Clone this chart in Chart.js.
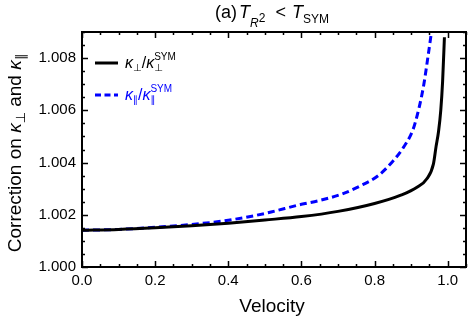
<!DOCTYPE html>
<html>
<head>
<meta charset="utf-8">
<script src="https://cdn.jsdelivr.net/npm/chart.js@4/dist/chart.umd.min.js"></script>
<style>
  html, body { margin: 0; padding: 0; background: #fff; }
  #wrap { width: 468px; height: 320px; }
</style>
</head>
<body>
<div id="wrap"><canvas id="chart" width="468" height="320"></canvas></div>
<script>
// values
const perpVelocity = [0, 0.1, 0.2, 0.3, 0.4, 0.5, 0.6, 0.7, 0.8, 0.87, 0.916, 0.943, 0.961, 0.968, 0.975, 0.981, 0.986, 0.991];
const perpValues = [1.00141, 1.00144, 1.00150, 1.00158, 1.00168, 1.00180, 1.00193, 1.00213, 1.00243, 1.00274, 1.00305, 1.00338, 1.00395, 1.00460, 1.00520, 1.00600, 1.00710, 1.00880];

const parVelocity = [0, 0.1, 0.2, 0.3, 0.4, 0.5, 0.6, 0.65, 0.71, 0.76, 0.81, 0.85, 0.88, 0.90, 0.91, 0.933, 0.947, 0.955, 0.962];
const parValues = [1.00141, 1.00144, 1.00152, 1.00163, 1.00179, 1.00205, 1.00240, 1.00255, 1.00279, 1.00310, 1.00350, 1.00405, 1.00460, 1.00509, 1.00547, 1.00686, 1.00815, 1.00895, 1.00970];

const xTicks = [0, 0.2, 0.4, 0.6, 0.8, 1.0];
const yTicks = [1.000, 1.002, 1.004, 1.006, 1.008];
const xMinorStep = 0.05;
const yMinorStep = 0.0005;

const FONT = '"Liberation Sans", Arial, sans-serif';
const SYMFONT = '"DejaVu Sans", sans-serif';

function toPoints(xs, ys) {
    return xs.map((x, i) => ({ x: x, y: ys[i] }));
}

// draw a run of text pieces (sub/superscripts via dy); stay:true does not advance
function drawRich(ctx, x, y, parts, align) {
    let total = 0;
    parts.forEach(p => {
        ctx.font = p.font;
        if (!p.stay) total += ctx.measureText(p.t).width + (p.gap || 0);
    });
    let cx = align === 'center' ? x - total / 2 : x;
    parts.forEach(p => {
        ctx.font = p.font;
        ctx.fillText(p.t, cx + (p.dx || 0), y + (p.dy || 0));
        if (!p.stay) cx += ctx.measureText(p.t).width + (p.gap || 0);
    });
}

const decorations = {
    id: 'decorations',
    afterDatasetsDraw(chart) {
        const ctx = chart.ctx;
        const area = chart.chartArea;
        const xs = chart.scales.x;
        const ys = chart.scales.y;
        ctx.save();

        // inward ticks on all four sides
        ctx.strokeStyle = '#000';
        ctx.lineWidth = 1.5;
        ctx.beginPath();
        for (let v = 0; v <= xs.max + 1e-9; v += xMinorStep) {
            const px = Math.round(xs.getPixelForValue(v)) + 0.5;
            const major = Math.abs(v / 0.2 - Math.round(v / 0.2)) < 1e-6;
            const len = major ? 6 : 3;
            ctx.moveTo(px, area.bottom); ctx.lineTo(px, area.bottom - len);
            ctx.moveTo(px, area.top); ctx.lineTo(px, area.top + len);
        }
        for (let v = ys.min; v <= ys.max + 1e-9; v += yMinorStep) {
            const py = Math.round(ys.getPixelForValue(v)) + 0.5;
            const major = Math.abs((v - 1) / 0.002 - Math.round((v - 1) / 0.002)) < 1e-6;
            const len = major ? 6 : 3;
            ctx.moveTo(area.left, py); ctx.lineTo(area.left + len, py);
            ctx.moveTo(area.right, py); ctx.lineTo(area.right - len, py);
        }
        ctx.stroke();

        // frame
        ctx.lineWidth = 2;
        ctx.strokeRect(area.left, area.top, area.right - area.left, area.bottom - area.top);

        ctx.fillStyle = '#000';
        ctx.textBaseline = 'alphabetic';

        // title
        const f18 = '18px ' + FONT;
        const i18 = 'italic 18px ' + FONT;
        const i12 = 'italic 12px ' + FONT;
        const f12 = '12px ' + FONT;
        drawRich(ctx, 272, 18, [
            { t: '(a)', font: f18, gap: 2 },
            { t: 'T', font: i18 },
            { t: 'R', font: i12, dy: 9 },
            { t: '2', font: f12, dy: 4, gap: 10 },
            { t: '<', font: f18, gap: 6 },
            { t: 'T', font: i18 },
            { t: 'SYM', font: f12, dy: 5 }
        ], 'center');

        // x axis title
        ctx.font = '19px ' + FONT;
        ctx.textAlign = 'center';
        ctx.fillText('Velocity', 272, 312);
        ctx.textAlign = 'left';

        // y axis title (rotated)
        ctx.save();
        ctx.translate(21, 153);
        ctx.rotate(-Math.PI / 2);
        const f19 = '19px ' + FONT;
        const i19 = 'italic 19px ' + FONT;
        const s13 = '13px ' + SYMFONT;
        drawRich(ctx, 0, 0, [
            { t: 'Correction on ', font: f19 },
            { t: 'κ', font: i19 },
            { t: '⊥', font: s13, dy: 4 },
            { t: ' and ', font: f19 },
            { t: 'κ', font: i19 },
            { t: '∥', font: s13, dy: 4 }
        ], 'center');
        ctx.restore();

        // legend
        const i16 = 'italic 16px ' + FONT;
        const f16 = '16px ' + FONT;
        const f10 = '10px ' + FONT;
        const s10 = '10px ' + SYMFONT;
        ctx.lineWidth = 3;
        ctx.strokeStyle = '#000';
        ctx.beginPath(); ctx.moveTo(95, 63); ctx.lineTo(118, 63); ctx.stroke();
        ctx.fillStyle = '#000';
        drawRich(ctx, 125, 68, [
            { t: 'κ', font: i16 },
            { t: '⊥', font: s10, dy: 3 },
            { t: '/', font: f16 },
            { t: 'κ', font: i16 },
            { t: '⊥', font: s10, dy: 3, stay: true },
            { t: 'SYM', font: f10, dy: -8 }
        ], 'left');

        ctx.strokeStyle = '#0000ff';
        ctx.setLineDash([6, 3.5]);
        ctx.beginPath(); ctx.moveTo(95, 95); ctx.lineTo(118, 95); ctx.stroke();
        ctx.setLineDash([]);
        ctx.fillStyle = '#0000ff';
        drawRich(ctx, 125, 100, [
            { t: 'κ', font: i16 },
            { t: '∥', font: s10, dy: 3 },
            { t: '/', font: f16 },
            { t: 'κ', font: i16 },
            { t: '∥', font: s10, dy: 3, stay: true },
            { t: 'SYM', font: f10, dy: -8 }
        ], 'left');

        ctx.restore();
    }
};

new Chart(document.getElementById('chart'), {
    type: 'line',
    data: {
        datasets: [
            {
                label: 'perp',
                data: toPoints(perpVelocity, perpValues),
                borderColor: '#000',
                borderWidth: 3,
                pointRadius: 0,
                cubicInterpolationMode: 'monotone',
                fill: false
            },
            {
                label: 'par',
                data: toPoints(parVelocity, parValues),
                borderColor: '#0000ff',
                borderWidth: 3,
                borderDash: [7, 4],
                pointRadius: 0,
                cubicInterpolationMode: 'monotone',
                fill: false
            }
        ]
    },
    options: {
        responsive: false,
        animation: false,
        layout: { padding: { top: 32, right: 2, left: 0, bottom: 0 } },
        plugins: {
            legend: { display: false },
            title: { display: false },
            tooltip: { enabled: false }
        },
        scales: {
            x: {
                type: 'linear',
                min: 0,
                max: 1.05,
                afterBuildTicks: s => { s.ticks = xTicks.map(v => ({ value: v })); },
                afterFit: s => { s.height = 53; },
                grid: { display: false, drawTicks: false },
                border: { display: false },
                ticks: {
                    padding: 5,
                    color: '#000',
                    font: { family: FONT, size: 15 },
                    maxRotation: 0,
                    callback: v => Number(v).toFixed(1)
                }
            },
            y: {
                type: 'linear',
                min: 1.000,
                max: 1.009,
                afterBuildTicks: s => { s.ticks = yTicks.map(v => ({ value: v })); },
                afterFit: s => { s.width = 82; },
                grid: { display: false, drawTicks: false },
                border: { display: false },
                ticks: {
                    padding: 6,
                    color: '#000',
                    font: { family: FONT, size: 15 },
                    callback: v => Number(v).toFixed(3)
                }
            }
        }
    },
    plugins: [decorations]
});
</script>
</body>
</html>
